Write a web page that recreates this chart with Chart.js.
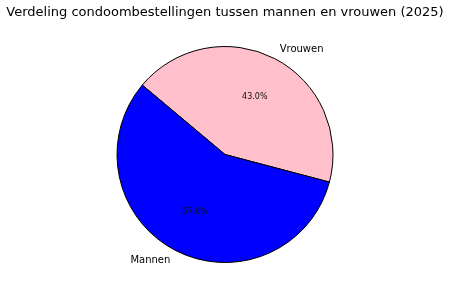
<!DOCTYPE html>
<html>
<head>
<meta charset="utf-8">
<script src="https://cdn.jsdelivr.net/npm/chart.js@4/dist/chart.umd.min.js"></script>
<style>
html,body{margin:0;padding:0;background:#fff;}
#wrap{width:450px;height:297px;position:relative;}
</style>
</head>
<body>
<div id="wrap"><canvas id="c" width="450" height="297"></canvas></div>
<script>
const titleText = 'Verdeling condoombestellingen tussen mannen en vrouwen (2025)';
const categories = ['Vrouwen', 'Mannen'];
const values = [43.0, 57.0];
const colors = ['#ffc0cb', '#0000ff'];

const labelPlugin = {
  id: 'pieLabels',
  afterDatasetsDraw(chart) {
    const ctx = chart.ctx;
    const meta = chart.getDatasetMeta(0);
    const total = values.reduce((a, b) => a + b, 0);
    ctx.save();
    meta.data.forEach((arc, i) => {
      const mid = (arc.startAngle + arc.endAngle) / 2;
      const r = arc.outerRadius;
      const cx = arc.x, cy = arc.y;
      const lx = cx + Math.cos(mid) * r * 1.1;
      const ly = cy + Math.sin(mid) * r * 1.1;
      ctx.font = '10px "DejaVu Sans"';
      ctx.fillStyle = '#000';
      ctx.textBaseline = 'middle';
      ctx.textAlign = Math.cos(mid) >= 0 ? 'left' : 'right';
      ctx.fillText(categories[i], lx, ly);
      const px = cx + Math.cos(mid) * r * 0.6;
      const py = cy + Math.sin(mid) * r * 0.6;
      ctx.font = '8px "DejaVu Sans"';
      ctx.textAlign = 'center';
      ctx.fillStyle = '#111';
      ctx.fillText((values[i] / total * 100).toFixed(1) + '%', px, py);
    });
    ctx.restore();
  }
};

new Chart(document.getElementById('c'), {
  type: 'pie',
  data: {
    labels: categories,
    datasets: [{
      data: values,
      backgroundColor: colors,
      borderColor: '#000',
      borderWidth: 1,
      hoverOffset: 0,
      offset: 0
    }]
  },
  options: {
    responsive: false,
    animation: false,
    rotation: -50,
    layout: { padding: { top: 0, bottom: 34, left: 0, right: 0 } },
    plugins: {
      legend: { display: false },
      tooltip: { enabled: false },
      title: {
        display: true,
        text: titleText,
        color: '#000',
        font: { family: '"DejaVu Sans"', size: 13, weight: 'normal', lineHeight: 1.2 },
        padding: { top: 5.2, bottom: 25.2 }
      }
    }
  },
  plugins: [labelPlugin]
});
</script>
</body>
</html>
